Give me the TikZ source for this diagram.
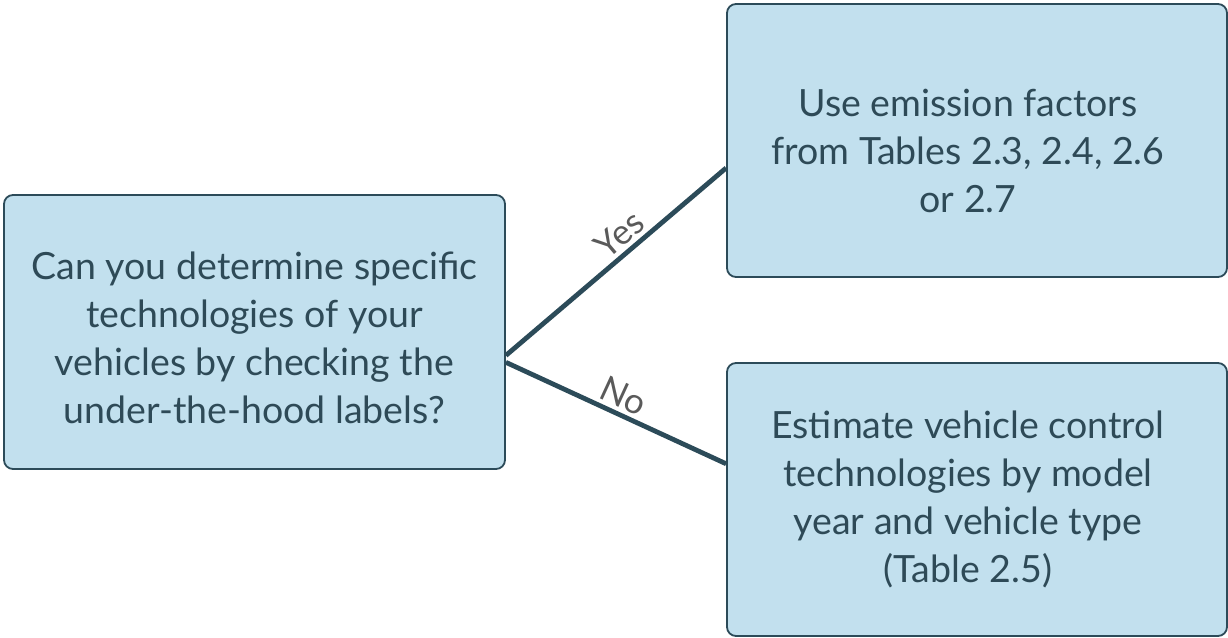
\documentclass[tikz,border=0pt]{standalone}
\usepackage{fontspec}
\setmainfont{Lato}
\usetikzlibrary{calc}
\definecolor{boxfill}{HTML}{C2E0EE}
\definecolor{boxline}{HTML}{2C4B59}
\definecolor{textdark}{HTML}{2E4A57}
\definecolor{labelgray}{HTML}{5A5A5A}
\tikzset{
  x=1pt, y=1pt,
  decision/.style={draw=boxline, line width=1.8pt, fill=boxfill, rounded corners=9pt, inner sep=0pt},
  boxtext/.style={text=textdark, align=center, inner sep=0pt,
    font=\fontsize{37.5}{48}\selectfont},
  branch/.style={draw=boxline, line width=4.8pt},
  answer/.style={text=labelgray, font=\fontsize{35}{36}\selectfont, sloped, above, inner sep=4pt}
}
\begin{document}
\begin{tikzpicture}
\useasboundingbox (0,0) rectangle (1228,637);
% question box
\node[decision, minimum width=501pt, minimum height=274pt] (q) at (254.5,305) {};
\node[boxtext] (qt) at ($(q.center)+(0,-6)$)
  {Can you determine specific\\technologies of your\\vehicles by checking the\\under-the-hood labels?};
% outcome boxes
\node[decision, minimum width=500pt, minimum height=273pt] (yes) at (977,496.5) {};
\node[boxtext] (yest) at ($(yes.center)+(-9,-10)$)
  {Use emission factors\\from Tables 2.3, 2.4, 2.6\\or 2.7};
\node[decision, minimum width=500pt, minimum height=273pt] (no) at (977,137.5) {};
\node[boxtext] (not) at ($(no.center)+(-9,0)$)
  {Estimate vehicle control\\technologies by model\\year and vehicle type\\(Table 2.5)};
% branches
\coordinate (qa) at ($(q.south east)!0.415!(q.north east)$);
\coordinate (qb) at ($(q.south east)!0.39!(q.north east)$);
\coordinate (ya) at ($(yes.south west)!0.40!(yes.north west)$);
\coordinate (na) at ($(no.south west)!0.63!(no.north west)$);
\draw[branch] (qa) -- node[answer, pos=0.57] {Yes} (ya);
\draw[branch] (qb) -- node[answer, pos=0.5] {No} (na);
\end{tikzpicture}
\end{document}
